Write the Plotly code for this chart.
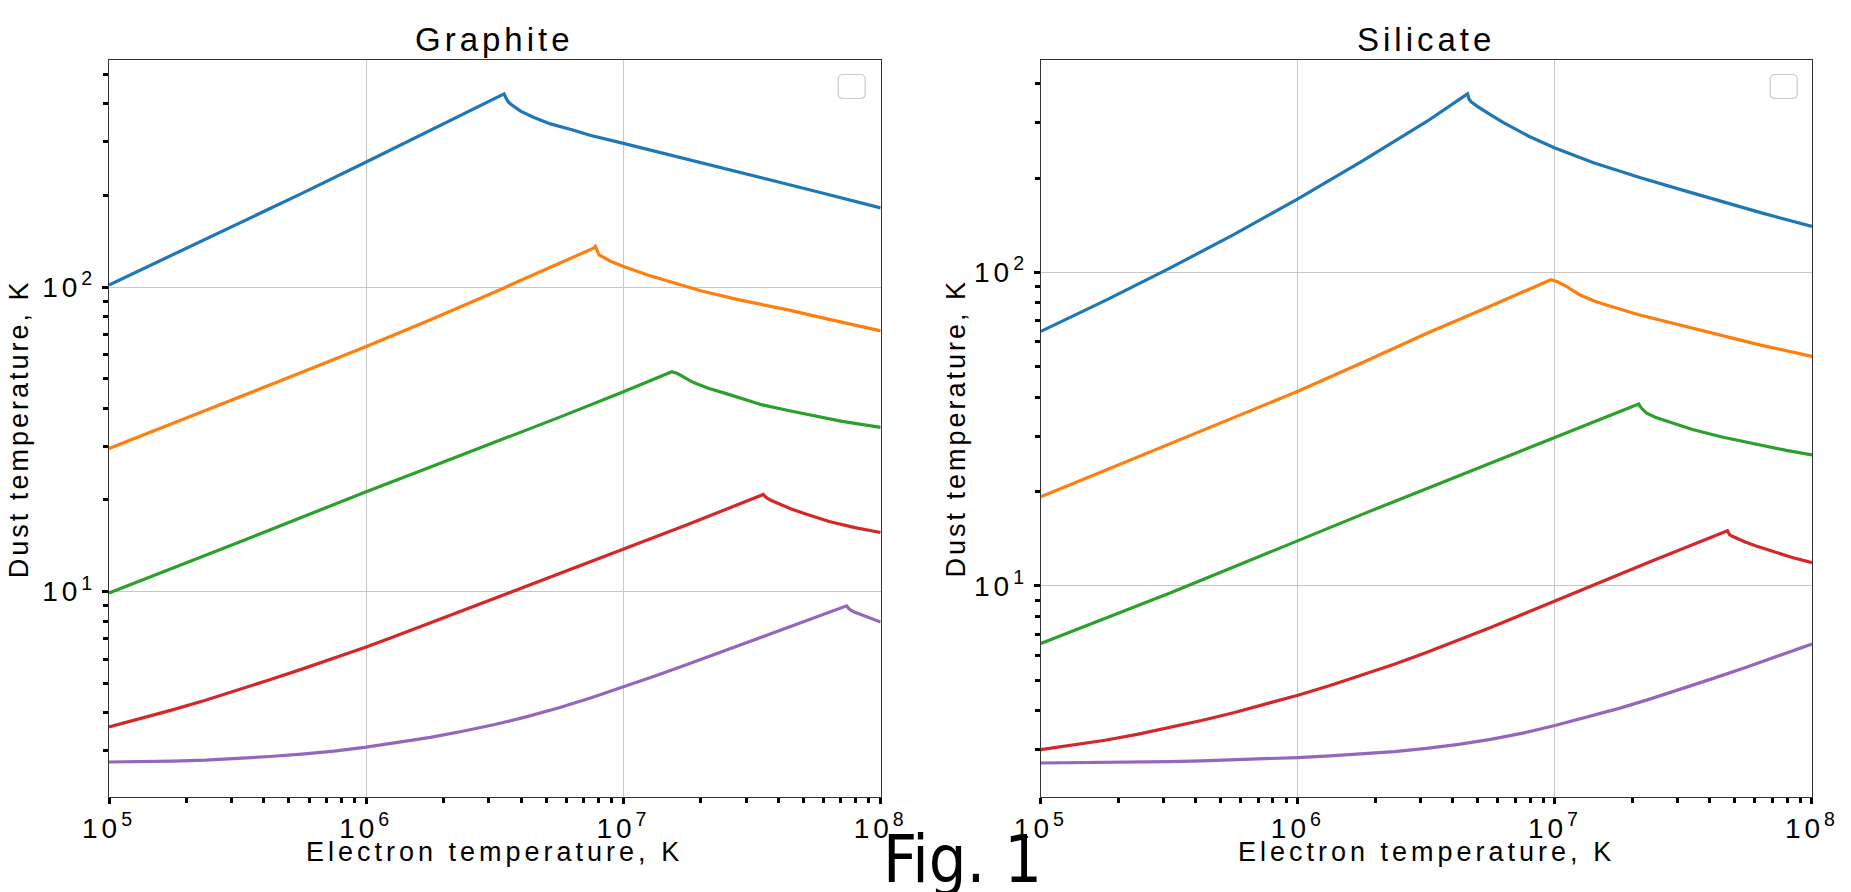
import plotly.graph_objects as go

# ---------------- data ----------------
# Graphite panel: electron temperature Te [K] and dust temperature Td [K]
g_blue_te = [1e5, 1.778e5, 3.162e5, 5.623e5, 1e6, 1.778e6, 3.436e6, 3.508e6, 3.589e6, 3.715e6,
             3.981e6, 4.467e6, 5.200e6, 6.310e6, 7.413e6, 1e7, 1.778e7, 3.162e7, 5.623e7, 1e8]
g_blue_td = [101.6, 127.9, 161.1, 203.2, 257.6, 327.3, 431.5, 415.0, 403.6, 394.5,
             378.4, 361.4, 343.6, 328.9, 315.5, 296.5, 263.0, 233.3, 206.1, 182.0]

g_orange_te = [1e5, 1.778e5, 3.162e5, 5.623e5, 1e6, 1.778e6, 3.162e6, 5.623e6, 7.499e6, 7.656e6,
               7.780e6, 8.035e6, 8.913e6, 1e7, 1.259e7, 1.585e7, 1.995e7, 2.818e7, 4.365e7,
               6.310e7, 1e8]
g_orange_td = [29.51, 35.73, 43.25, 52.48, 63.83, 78.16, 96.38, 119.7, 133.0, 134.3,
               136.1, 127.6, 121.6, 116.9, 109.1, 102.8, 97.27, 90.78, 84.14,
               78.34, 71.78]

g_green_te = [1e5, 1.778e5, 3.162e5, 5.623e5, 1e6, 1.778e6, 3.162e6, 5.623e6, 1e7, 1.542e7,
              1.622e7, 1.679e7, 1.738e7, 1.820e7, 1.905e7, 2.138e7, 2.512e7, 3.467e7, 4.467e7,
              5.623e7, 7.079e7, 1e8]
g_green_td = [9.886, 11.94, 14.45, 17.54, 21.28, 25.64, 30.90, 37.33, 45.29, 52.72,
              52.00, 51.05, 50.12, 49.20, 48.31, 46.56, 44.67, 41.02, 39.17,
              37.58, 36.22, 34.63]

g_red_te = [1e5, 1.334e5, 1.778e5, 2.371e5, 3.162e5, 4.217e5, 5.623e5, 7.499e5, 1e6, 1.334e6,
            1.778e6, 2.371e6, 3.162e6, 4.217e6, 5.623e6, 7.499e6, 1e7, 1.334e7, 1.778e7, 2.371e7,
            3.162e7, 3.499e7, 3.548e7, 3.631e7, 3.758e7, 3.981e7, 4.467e7, 5.012e7, 6.310e7,
            7.943e7, 1e8]
g_red_td = [3.589, 3.828, 4.093, 4.395, 4.742, 5.129, 5.559, 6.039, 6.577, 7.194,
            7.889, 8.670, 9.528, 10.47, 11.48, 12.59, 13.80, 15.14, 16.60, 18.28,
            20.14, 20.84, 20.56, 20.23, 19.91, 19.50, 18.71, 18.07, 16.98,
            16.22, 15.63]

g_purple_te = [1e5, 1.334e5, 1.778e5, 2.371e5, 3.162e5, 4.217e5, 5.623e5, 7.499e5, 1e6, 1.334e6,
               1.778e6, 2.371e6, 3.162e6, 4.217e6, 5.623e6, 7.499e6, 1e7, 1.334e7, 1.778e7,
               2.371e7, 3.162e7, 4.217e7, 5.623e7, 7.379e7, 7.499e7, 7.674e7, 7.943e7, 8.913e7,
               1e8]
g_purple_td = [2.754, 2.761, 2.773, 2.793, 2.825, 2.871, 2.924, 2.992, 3.083, 3.192,
               3.319, 3.475, 3.656, 3.882, 4.150, 4.477, 4.853, 5.284, 5.768,
               6.310, 6.887, 7.534, 8.222, 8.974, 8.810, 8.670, 8.551, 8.222,
               7.943]

# Silicate panel
s_blue_te = [1e5, 1.778e5, 3.162e5, 5.623e5, 1e6, 1.778e6, 3.162e6, 4.571e6, 4.603e6, 4.634e6,
             4.732e6, 4.989e6, 5.623e6, 6.310e6, 7.943e6, 1e7, 1.413e7, 2.138e7, 3.162e7,
             4.365e7, 6.310e7, 1e8]
s_blue_td = [64.86, 81.28, 103.0, 132.1, 171.8, 226.5, 302.7, 371.5, 364.8, 357.3,
             349.9, 338.8, 318.4, 300.6, 271.6, 249.5, 223.9, 200.9, 182.8,
             169.4, 155.2, 140.3]

s_orange_te = [1e5, 1.778e5, 3.162e5, 5.623e5, 1e6, 1.778e6, 3.162e6, 5.623e6, 9.638e6, 1.023e7,
               1.079e7, 1.122e7, 1.159e7, 1.247e7, 1.413e7, 1.585e7, 2.118e7, 3.162e7, 4.365e7,
               6.310e7, 1e8]
s_orange_td = [19.23, 23.33, 28.31, 34.36, 41.78, 51.52, 63.83, 78.16, 94.84, 93.33,
               91.41, 89.74, 88.10, 84.92, 81.28, 78.70, 73.28, 67.45, 63.24,
               58.61, 53.95]

s_green_te = [1e5, 1.778e5, 3.162e5, 5.623e5, 1e6, 1.778e6, 3.162e6, 5.623e6, 1e7, 2.118e7,
              2.163e7, 2.213e7, 2.275e7, 2.455e7, 2.818e7, 3.428e7, 4.467e7, 6.310e7, 7.943e7,
              1e8]
s_green_td = [6.546, 7.852, 9.462, 11.48, 13.96, 16.90, 20.42, 24.66, 29.79, 38.02,
              36.98, 36.22, 35.56, 34.51, 33.19, 31.55, 29.85, 28.12, 27.04,
              26.18]

s_red_te = [1e5, 1.334e5, 1.778e5, 2.371e5, 3.162e5, 4.217e5, 5.623e5, 7.499e5, 1e6, 1.334e6,
            1.778e6, 2.371e6, 3.162e6, 4.217e6, 5.623e6, 7.499e6, 1e7, 1.334e7, 1.778e7, 2.371e7,
            3.162e7, 4.688e7, 4.742e7, 4.786e7, 4.898e7, 5.047e7, 5.495e7, 6.026e7, 7.063e7,
            8.318e7, 1e8]
s_red_td = [2.999, 3.097, 3.214, 3.357, 3.524, 3.715, 3.936, 4.188, 4.477, 4.808,
            5.188, 5.623, 6.124, 6.699, 7.362, 8.110, 8.954, 9.863, 10.86, 11.97,
            13.18, 14.99, 14.72, 14.55, 14.39, 14.22, 13.80, 13.43, 12.85,
            12.33, 11.85]

s_purple_te = [1e5, 1.334e5, 1.778e5, 2.371e5, 3.162e5, 4.217e5, 5.623e5, 7.499e5, 1e6, 1.334e6,
               1.778e6, 2.371e6, 3.162e6, 4.217e6, 5.623e6, 7.499e6, 1e7, 1.334e7, 1.778e7,
               2.371e7, 3.162e7, 4.217e7, 5.623e7, 7.499e7, 1e8]
s_purple_td = [2.720, 2.723, 2.729, 2.739, 2.748, 2.761, 2.780, 2.802, 2.831, 2.864,
               2.904, 2.958, 3.027, 3.119, 3.236, 3.388, 3.581, 3.811, 4.064,
               4.365, 4.710, 5.093, 5.521, 5.998, 6.516]

x_tick_vals = [1e5, 1e6, 1e7, 1e8]
x_tick_text = ["10<sup>5</sup>", "10<sup>6</sup>", "10<sup>7</sup>", "10<sup>8</sup>"]
y_tick_vals = [10, 100]
y_tick_text = ["10<sup>1</sup>", "10<sup>2</sup>"]

panel_titles = ["Graphite", "Silicate"]
x_label = "Electron temperature, K"
y_label = "Dust temperature, K"
fig_label = "Fig. 1"

colors = ["#1f77b4", "#ff7f0e", "#2ca02c", "#d62728", "#9467bd"]

# ---------------- figure ----------------
W, H = 1851, 892
ML, MR, MT, MB = 109, 25, 60, 95
PW = W - ML - MR
PH = H - MT - MB

FONT = "Liberation Sans, Arial, sans-serif"

def spaced(t, px):
    return '<span style="letter-spacing:%spx">%s</span>' % (px, t)

fig = go.Figure()

graphite = [(g_blue_te, g_blue_td), (g_orange_te, g_orange_td), (g_green_te, g_green_td),
            (g_red_te, g_red_td), (g_purple_te, g_purple_td)]
silicate = [(s_blue_te, s_blue_td), (s_orange_te, s_orange_td), (s_green_te, s_green_td),
            (s_red_te, s_red_td), (s_purple_te, s_purple_td)]

for (xs, ys), c in zip(graphite, colors):
    fig.add_trace(go.Scatter(x=xs, y=ys, mode="lines", line=dict(color=c, width=3.2),
                             xaxis="x", yaxis="y", showlegend=False, hoverinfo="skip"))
for (xs, ys), c in zip(silicate, colors):
    fig.add_trace(go.Scatter(x=xs, y=ys, mode="lines", line=dict(color=c, width=3.2),
                             xaxis="x2", yaxis="y2", showlegend=False, hoverinfo="skip"))

x_minor = [m * 10 ** e for e in (5, 6, 7) for m in range(2, 10)]
y_minor = [m * 10 ** e for e in (0, 1, 2) for m in range(2, 10)]

left_dom = [0, 778 / PW]
right_dom = [(1048.5 - ML) / PW, 1]

TICKFONT = dict(family=FONT, size=28, color="black")

def xaxis_cfg(dom, anchor):
    return dict(domain=dom, anchor=anchor, type="log", range=[5, 8],
                tickmode="array", tickvals=x_tick_vals,
                ticktext=[spaced(t, 4) for t in x_tick_text],
                ticks="outside", ticklen=6, tickwidth=2.5, tickcolor="black",
                tickfont=TICKFONT,
                showgrid=True, gridcolor="#c8c8c8", gridwidth=1.2,
                showline=True, mirror=True, linecolor="#333333", linewidth=1.3,
                zeroline=False,
                minor=dict(tickmode="array", tickvals=x_minor, ticks="outside",
                           ticklen=5, tickwidth=2.5, tickcolor="black", showgrid=False))

def yaxis_cfg(rng, anchor):
    return dict(domain=[0, 1], anchor=anchor, type="log", range=rng,
                tickmode="array", tickvals=y_tick_vals,
                ticktext=[spaced(t, 4) for t in y_tick_text],
                ticks="outside", ticklen=6, tickwidth=2.5, tickcolor="black",
                tickfont=TICKFONT,
                showgrid=True, gridcolor="#c8c8c8", gridwidth=1.2,
                showline=True, mirror=True, linecolor="#333333", linewidth=1.3,
                zeroline=False,
                minor=dict(tickmode="array", tickvals=y_minor, ticks="outside",
                           ticklen=5, tickwidth=2.5, tickcolor="black", showgrid=False))

fig.update_layout(
    width=W, height=H,
    margin=dict(l=ML, r=MR, t=MT, b=MB),
    paper_bgcolor="white", plot_bgcolor="white",
    showlegend=False,
    xaxis=xaxis_cfg(left_dom, "y"),
    yaxis=yaxis_cfg([0.325, 2.746], "x"),
    xaxis2=xaxis_cfg(right_dom, "y2"),
    yaxis2=yaxis_cfg([0.326, 2.678], "x2"),
)

def px_x(p):
    return (p - ML) / PW

def px_y(p):
    return (H - MB - p) / PH

ann = []
for dom, title in zip([left_dom, right_dom], panel_titles):
    cx = (dom[0] + dom[1]) / 2
    ann.append(dict(text=spaced(title, 4), x=cx, y=1, xref="paper", yref="paper",
                    xanchor="center", yanchor="bottom", showarrow=False,
                    font=dict(family=FONT, size=33, color="black")))
    ann.append(dict(text=spaced(x_label, 4), x=cx, y=px_y(834.5), xref="paper", yref="paper",
                    xanchor="center", yanchor="top", showarrow=False,
                    font=dict(family=FONT, size=27, color="black")))
for xc in (17.9, 962.0):
    ann.append(dict(text=spaced(y_label, 3), x=px_x(xc), y=0.5, xref="paper", yref="paper",
                    xanchor="center", yanchor="middle", textangle=-90, showarrow=False,
                    font=dict(family=FONT, size=27, color="black")))
ann.append(dict(text=fig_label, x=px_x(969.5), y=px_y(819), xref="paper", yref="paper",
                xanchor="center", yanchor="top", showarrow=False,
                font=dict(family="DejaVu Sans Condensed, DejaVu Sans", size=66, color="black")))
fig.update_layout(annotations=ann)

# empty legend frames (top-right of each panel)
box = ("M -8.5,-12 L 8.5,-12 Q 13.5,-12 13.5,-7 L 13.5,7 Q 13.5,12 8.5,12 "
       "L -8.5,12 Q -13.5,12 -13.5,7 L -13.5,-7 Q -13.5,-12 -8.5,-12 Z")
shapes = []
for cx in (857.8, 1797.5):
    shapes.append(dict(type="path", path=box, xref="paper", yref="paper",
                       xsizemode="pixel", ysizemode="pixel",
                       xanchor=px_x(cx), yanchor=px_y(86.5),
                       line=dict(color="#cccccc", width=1.2), fillcolor="white"))
fig.update_layout(shapes=shapes)

fig.write_html("out.html",
               config={"displayModeBar": False},
               post_script="document.body.style.margin='0px';"
                           "document.body.style.overflow='hidden';")
